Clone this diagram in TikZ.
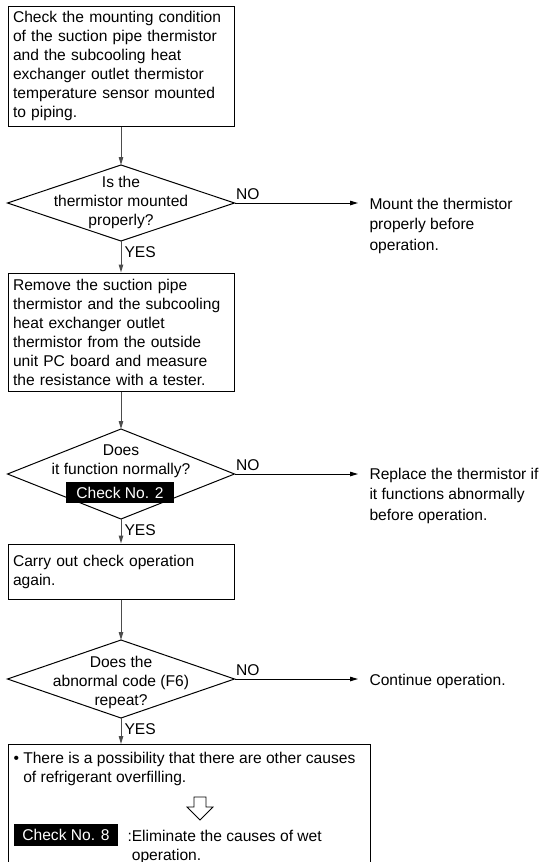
\documentclass[tikz,border=0pt]{standalone}
\usepackage{fontspec}
\setmainfont{Liberation Sans}
\usetikzlibrary{shapes.geometric,arrows.meta}

\begin{document}
\begin{tikzpicture}[x=1pt, y=-1pt, line width=1pt,
  every node/.style={font=\fontsize{15.6}{19}\selectfont},
  stepbox/.style={draw, rectangle, text width=216pt, inner xsep=5pt, align=left},
  query/.style={draw, diamond, minimum width=227pt, inner sep=0pt, outer sep=0pt},
  querytext/.style={align=center, inner sep=0pt},
  note/.style={anchor=north west, align=left, inner xsep=11pt, inner ysep=0pt, font=\fontsize{15.6}{20.5}\selectfont},
  tag/.style={fill=black, text=white, inner sep=0pt, minimum height=21pt},
  flow/.style={draw=black!70, -{Triangle[length=8pt,width=4.5pt]}},
  side/.style={draw=black, -{Triangle[length=8pt,width=4.5pt]}},
  no/.style={anchor=south west, inner xsep=1pt, inner ysep=3pt},
  yes/.style={anchor=north west, inner xsep=3pt, inner ysep=5pt}]
  \useasboundingbox (0,0) rectangle (544,862);

  % Steps and questions
  \node[stepbox, minimum height=120pt] (b1) at (121,66) {Check the mounting condition\\of the suction pipe thermistor\\and the subcooling heat\\exchanger outlet thermistor\\temperature sensor mounted\\to piping.};

  \node[query, minimum height=76pt] (d1) at (121,203) {};
  \node[querytext] (q1) at (121,202) {Is the\\thermistor mounted\\properly?};

  \node[stepbox, minimum height=118pt] (b2) at (121,332) {Remove the suction pipe\\thermistor and the subcooling\\heat exchanger outlet\\thermistor from the outside\\unit PC board and measure\\the resistance with a tester.};

  \node[query, minimum height=90pt] (d2) at (121,474) {};
  \node[querytext] (q2) at (121,461) {Does\\it function normally?};
  \node[tag, minimum width=108pt] (c2) at (120,492.5) {Check No. 2};

  \node[stepbox, minimum height=55pt] (b3) at (121,571.5) {Carry out check operation\\again.};

  \node[query, minimum height=78pt] (d3) at (121,679) {};
  \node[querytext] (q3) at (121,682) {Does the\\abnormal code (F6)\\repeat?};

  % Last box, open at the bottom
  \node[draw, anchor=north west, minimum width=362pt, minimum height=126pt, inner sep=0pt] (b4) at (8,744) {};
  \node[anchor=north west, inner sep=0pt, align=left] (t4) at (13,751.4) {\textbullet\ There is a possibility that there are other causes\\\phantom{\textbullet\ }of refrigerant overfilling.};
  \draw[fill=white, line width=0.8pt] (194,797) -- (206,797) -- (206,807) -- (213,807) -- (200,820) -- (187,807) -- (194,807) -- cycle;
  \node[tag, minimum width=104pt, minimum height=22pt] (c8) at (66,835) {Check No. 8};
  \node[anchor=north west, inner sep=0pt, align=left] (t8) at (127,829.4) {:Eliminate the causes of wet\\\phantom{:}operation.};

  % Side notes
  \node[note] (n1) at (358,197.4) {Mount the thermistor\\properly before\\operation.};
  \node[note] (n2) at (358,467.4) {Replace the thermistor if\\it functions abnormally\\before operation.};
  \node[note] (n3) at (358,673.4) {Continue operation.};

  % Arrows
  \draw[flow] (b1.south) -- (d1.north);
  \draw[flow] (d1.south) -- (b2.north);
  \draw[flow] (b2.south) -- (d2.north);
  \draw[flow] (d2.south) -- (b3.north);
  \draw[flow] (b3.south) -- (d3.north);
  \draw[flow] (d3.south) -- (d3.south |- b4.north);

  \draw[side] (d1.east) -- (d1.east -| n1.west);
  \draw[side] (d2.east) -- (d2.east -| n2.west);
  \draw[side] (d3.east) -- (d3.east -| n3.west);

  \node[no] (no1) at (d1.east) {NO};
  \node[no] (no2) at (d2.east) {NO};
  \node[no] (no3) at (d3.east) {NO};
  \node[yes] (yes1) at (d1.south) {YES};
  \node[yes] (yes2) at (d2.south) {YES};
  \node[yes] (yes3) at (d3.south) {YES};
\end{tikzpicture}
\end{document}
